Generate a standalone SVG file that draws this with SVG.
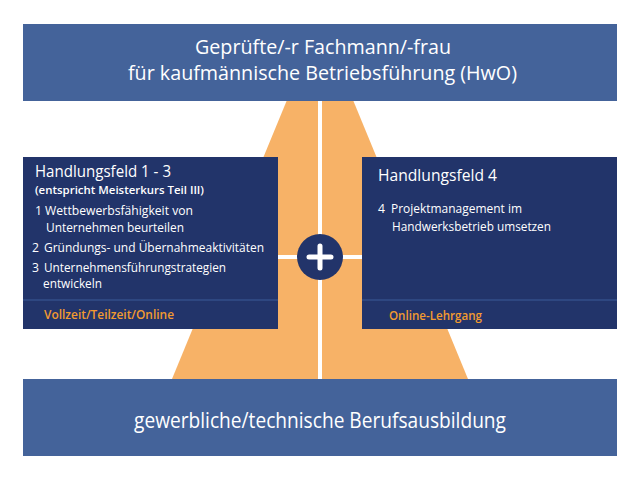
<svg xmlns="http://www.w3.org/2000/svg" width="640" height="480" viewBox="0 0 640 480">
<style>
.banner{fill:#44639a}
.box{fill:#22346a}
.div{stroke:#3b5a98;stroke-width:1.2}
.t{font-family:"Open Sans","Noto Sans",sans-serif;fill:#ffffff}
.title{font-size:20px;font-weight:500}
.head{font-size:16.5px;font-weight:500}
.sub{font-size:11px;font-weight:600}
.item{font-size:12.2px}
.mode{font-family:"Open Sans","Noto Sans",sans-serif;fill:#f39b2f;font-size:12.5px;font-weight:600}
.wl{stroke:#ffffff;stroke-width:4;fill:none}
</style>
<rect width="640" height="480" fill="#ffffff"/>
<g id="pyramid">
<polygon points="287,100 353,100 468,379 172,379" fill="#f7b267"/>
</g>
<g id="connectors">
<line class="wl" x1="320" y1="100" x2="320" y2="379"/>
<line class="wl" x1="278" y1="257" x2="362" y2="257"/>
</g>
<g id="top">
<rect class="banner" x="23" y="24" width="594" height="77"/>
<text class="t title" x="195" y="54" textLength="256" lengthAdjust="spacingAndGlyphs">Geprüfte/-r Fachmann/-frau</text>
<text class="t title" x="128" y="80" textLength="389" lengthAdjust="spacingAndGlyphs">für kaufmännische Betriebsführung (HwO)</text>
</g>
<g id="left">
<rect class="box" x="23" y="157" width="255" height="172"/>
<line class="div" x1="23" y1="300" x2="278" y2="300"/>
<text class="t head" x="35" y="177" textLength="136" lengthAdjust="spacingAndGlyphs">Handlungsfeld 1 - 3</text>
<text class="t sub" x="35" y="194" textLength="169" lengthAdjust="spacingAndGlyphs">(entspricht Meisterkurs Teil III)</text>
<text class="t item" x="35" y="215">1</text>
<text class="t item" x="45" y="215" textLength="148" lengthAdjust="spacingAndGlyphs">Wettbewerbsfähigkeit von</text>
<text class="t item" x="46" y="232" textLength="138" lengthAdjust="spacingAndGlyphs">Unternehmen beurteilen</text>
<text class="t item" x="32" y="252">2</text>
<text class="t item" x="44" y="252" textLength="220" lengthAdjust="spacingAndGlyphs">Gründungs- und Übernahmeaktivitäten</text>
<text class="t item" x="32" y="272">3</text>
<text class="t item" x="44" y="272" textLength="182" lengthAdjust="spacingAndGlyphs">Unternehmensführungstrategien</text>
<text class="t item" x="43" y="288" textLength="59" lengthAdjust="spacingAndGlyphs">entwickeln</text>
<text class="mode" x="44" y="319" textLength="130" lengthAdjust="spacingAndGlyphs">Vollzeit/Teilzeit/Online</text>
</g>
<g id="right">
<rect class="box" x="362" y="157" width="255" height="172"/>
<line class="div" x1="362" y1="300" x2="617" y2="300"/>
<text class="t head" x="378" y="181" textLength="119" lengthAdjust="spacingAndGlyphs">Handlungsfeld 4</text>
<text class="t item" x="378" y="213">4</text>
<text class="t item" x="391" y="213" textLength="131" lengthAdjust="spacingAndGlyphs">Projektmanagement im</text>
<text class="t item" x="392" y="231" textLength="159" lengthAdjust="spacingAndGlyphs">Handwerksbetrieb umsetzen</text>
<text class="mode" x="389" y="320" textLength="93" lengthAdjust="spacingAndGlyphs">Online-Lehrgang</text>
</g>
<g id="plus">
<circle cx="320" cy="257" r="23" fill="#22346a"/>
<path d="M309,257 H331 M320,246 V268" stroke="#ffffff" stroke-width="5" stroke-linecap="round"/>
</g>
<g id="bottom">
<rect class="banner" x="23" y="379" width="594" height="77"/>
<text class="t" x="320" y="428" font-size="21px" font-weight="500" text-anchor="middle" textLength="372" lengthAdjust="spacingAndGlyphs">gewerbliche/technische Berufsausbildung</text>
</g>
</svg>
